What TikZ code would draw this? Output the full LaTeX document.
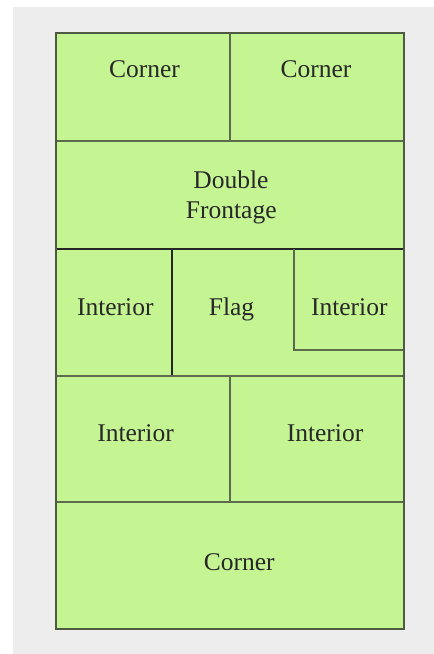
\documentclass[tikz,border=0pt]{standalone}
\usepackage{fontspec}
\setmainfont{Liberation Serif}
\definecolor{lotfill}{RGB}{196,245,146}
\definecolor{lotedge}{RGB}{92,106,78}
\definecolor{bggray}{RGB}{237,237,237}
\definecolor{txt}{RGB}{40,40,40}
\tikzset{
  lbl/.style={anchor=base, text=txt, font=\fontsize{25.5}{30}\selectfont, inner sep=0pt, align=center},
  thick line/.style={draw=lotedge, line width=2pt},
  thin line/.style={draw=black!85, line width=1.2pt}
}
\begin{document}
\begin{tikzpicture}[x=1pt,y=-1pt]
\useasboundingbox (0,0) rectangle (434,654);
\fill[white] (0,0) rectangle (434,654);
\fill[bggray] (13,7) rectangle (434,654);
% lot
\fill[lotfill] (56,33) rectangle (404,629);
% inner dividers
\draw[thick line] (230,33) -- (230,141);
\draw[thick line] (56,141) -- (404,141);
\draw[thin line] (56,249) -- (404,249);
\draw[thin line] (172,249) -- (172,376);
\draw[thick line] (294,249) -- (294,350) -- (404,350);
\draw[thick line] (56,376) -- (404,376);
\draw[thick line] (230,376) -- (230,502);
\draw[thick line] (56,502) -- (404,502);
\draw[draw=lotedge!85!black, line width=2.4pt] (56,33) rectangle (404,629);
% labels
\node[lbl] (c1) at (144.5,77.7) {Corner};
\node[lbl] (c2) at (316,77.7) {Corner};
\node[lbl] (df1) at (231,188.3) {Double};
\node[lbl] (df2) at (231.3,218.3) {Frontage};
\node[lbl] (i1) at (115.3,315) {Interior};
\node[lbl] (fl) at (231.5,315) {Flag};
\node[lbl] (i2) at (349.3,315) {Interior};
\node[lbl] (i3) at (135.5,441.7) {Interior};
\node[lbl] (i4) at (325,441.7) {Interior};
\node[lbl] (c3) at (239.2,570) {Corner};
\end{tikzpicture}
\end{document}
